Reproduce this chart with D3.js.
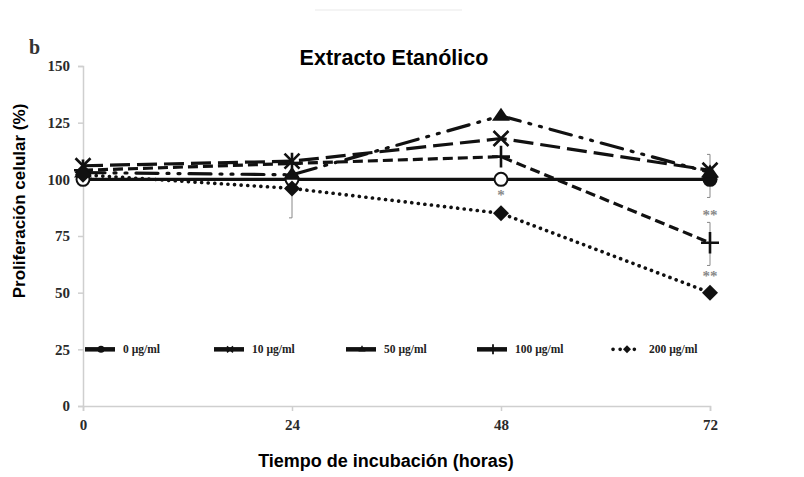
<!DOCTYPE html>
<html>
<head>
<meta charset="utf-8">
<script src="https://cdn.jsdelivr.net/npm/d3@7"></script>
<style>
  html, body { margin: 0; padding: 0; background: #fff; }
  svg { display: block; }
</style>
</head>
<body>
<svg id="chart" width="804" height="477"></svg>
<script>
// Incubation times (hours) and y-axis ticks
const hours = [0, 24, 48, 72];
const yTicks = [0, 25, 50, 75, 100, 125, 150];

// Cell proliferation (%) for each extract concentration
const seriesNames = ["0 µg/ml", "10 µg/ml", "50 µg/ml", "100 µg/ml", "200 µg/ml"];
const conc0   = [100, 100, 100, 100];
const conc10  = [106, 108, 118, 104];
const conc50  = [103, 102, 128, 103];
const conc100 = [104, 107, 110, 72];
const conc200 = [102, 96, 85, 50];

// Error bars: [hour, low, high]
const errorBars = [
  [24, 83, 101],
  [72, 92, 111],
  [72, 62, 81]
];

// Significance marks: [hour, value, text]
const marks = [
  [48, 91, "*"],
  [72, 82, "**"],
  [72, 55, "**"]
];

const svg = d3.select("#chart");
const x = d3.scaleLinear().domain([0, 72]).range([83, 710]);
const y = d3.scaleLinear().domain([0, 150]).range([406, 66]);

const styles = [
  { data: conc0,   dash: null,            marker: "circle" },
  { data: conc10,  dash: "20,7",          marker: "cross" },
  { data: conc50,  dash: "22,9,2,9,2,9",  marker: "triangle" },
  { data: conc100, dash: "10,5",          marker: "plus" },
  { data: conc200, dash: "0.1,6.5",       marker: "diamond" }
];

// Axes
const axisColor = "#cfcfcf";
const tickFont = "'Liberation Serif', 'DejaVu Serif', serif";
const sansFont = "'Liberation Sans', Arial, sans-serif";

const yAxis = svg.append("g").attr("transform", `translate(${x(0)},0)`)
  .call(d3.axisLeft(y).tickValues(yTicks).tickSize(5).tickPadding(8));
const xAxis = svg.append("g").attr("transform", `translate(0,${y(0)})`)
  .call(d3.axisBottom(x).tickValues(hours).tickSize(5).tickPadding(6));

[yAxis, xAxis].forEach(g => {
  g.select(".domain").attr("stroke", axisColor).attr("stroke-width", 1.5);
  g.selectAll(".tick line").attr("stroke", axisColor).attr("stroke-width", 1.5);
  g.selectAll(".tick text")
    .attr("fill", "#2a2a2a")
    .style("font-family", tickFont)
    .style("font-weight", "bold")
    .style("font-size", "15px");
});
xAxis.selectAll(".tick text").attr("dy", "0.85em");

// Error bars
const eb = svg.append("g").attr("stroke", "#888").attr("stroke-width", 1);
errorBars.forEach(([h, lo, hi]) => {
  eb.append("line").attr("x1", x(h)).attr("x2", x(h)).attr("y1", y(lo)).attr("y2", y(hi));
  eb.append("line").attr("x1", x(h) - 3).attr("x2", x(h)).attr("y1", y(lo)).attr("y2", y(lo));
  eb.append("line").attr("x1", x(h) - 3).attr("x2", x(h)).attr("y1", y(hi)).attr("y2", y(hi));
});

// Lines
const line = d3.line().x((d, i) => x(hours[i])).y(d => y(d));
styles.forEach(s => {
  svg.append("path")
    .datum(s.data)
    .attr("d", line)
    .attr("fill", "none")
    .attr("stroke", "#111")
    .attr("stroke-width", s.dash === "0.1,6.5" ? 3.6 : 3.2)
    .attr("stroke-linecap", s.dash === "0.1,6.5" || s.dash === "22,9,2,9,2,9" ? "round" : "butt")
    .attr("stroke-dasharray", s.dash);
});

// Markers
function drawMarker(g, type, cx, cy) {
  if (type === "circle") {
    g.append("circle").attr("cx", cx).attr("cy", cy).attr("r", 6.5)
      .attr("fill", "#fff").attr("stroke", "#111").attr("stroke-width", 2);
  } else if (type === "filledCircle") {
    g.append("circle").attr("cx", cx).attr("cy", cy).attr("r", 7.5).attr("fill", "#111");
  } else if (type === "cross") {
    const r = 7.5;
    g.append("path").attr("d", `M${cx - r},${cy - r}L${cx + r},${cy + r}M${cx - r},${cy + r}L${cx + r},${cy - r}`)
      .attr("stroke", "#111").attr("stroke-width", 2.6);
  } else if (type === "triangle") {
    g.append("path").attr("d", `M${cx},${cy - 8}L${cx + 9},${cy + 5}L${cx - 9},${cy + 5}Z`).attr("fill", "#111");
  } else if (type === "plus") {
    const r = 9;
    g.append("path").attr("d", `M${cx - r},${cy}L${cx + r},${cy}M${cx},${cy - r * 1.2}L${cx},${cy + r * 1.2}`)
      .attr("stroke", "#111").attr("stroke-width", 2.6);
  } else if (type === "diamond") {
    const r = 8;
    g.append("path").attr("d", `M${cx},${cy - r}L${cx + r},${cy}L${cx},${cy + r}L${cx - r},${cy}Z`)
      .attr("fill", "#111");
  }
}

const mg = svg.append("g");
styles.forEach(s => {
  s.data.forEach((v, i) => {
    const type = (s.marker === "circle" && hours[i] === 72) ? "filledCircle" : s.marker;
    drawMarker(mg, type, x(hours[i]), y(v));
  });
});

// Significance marks
marks.forEach(([h, v, t]) => {
  svg.append("text").attr("x", x(h)).attr("y", y(v))
    .attr("text-anchor", "middle")
    .attr("fill", "#888")
    .style("font-family", tickFont)
    .style("font-weight", "bold")
    .style("font-size", "15px")
    .text(t);
});

// Legend
const legendX = [85, 214, 346, 477, 611];
const legendY = y(25);
styles.forEach((s, i) => {
  const g = svg.append("g");
  const x0 = legendX[i], x1 = x0 + 30;
  if (s.dash === "0.1,6.5") {
    g.append("line").attr("x1", x0 + 2).attr("x2", x1).attr("y1", legendY).attr("y2", legendY)
      .attr("stroke", "#111").attr("stroke-width", 3.6).attr("stroke-linecap", "round")
      .attr("stroke-dasharray", "0.1,7");
  } else {
    g.append("line").attr("x1", x0).attr("x2", x1).attr("y1", legendY).attr("y2", legendY)
      .attr("stroke", "#111").attr("stroke-width", 4.5);
  }
  const cx = (x0 + x1) / 2 + 1;
  if (s.marker === "circle") {
    g.append("circle").attr("cx", cx).attr("cy", legendY).attr("r", 3.5).attr("fill", "#111");
  } else if (s.marker === "cross") {
    g.append("path").attr("d", `M${cx - 3},${legendY - 3}L${cx + 3},${legendY + 3}M${cx - 3},${legendY + 3}L${cx + 3},${legendY - 3}`)
      .attr("stroke", "#111").attr("stroke-width", 1.6);
  } else if (s.marker === "triangle") {
    g.append("path").attr("d", d3.symbol(d3.symbolTriangle, 22)()).attr("transform", `translate(${cx},${legendY})`).attr("fill", "#111");
  } else if (s.marker === "plus") {
    g.append("path").attr("d", `M${cx},${legendY - 5}L${cx},${legendY + 5}`).attr("stroke", "#111").attr("stroke-width", 1.8);
  } else if (s.marker === "diamond") {
    g.append("path").attr("d", `M${cx},${legendY - 4}L${cx + 4},${legendY}L${cx},${legendY + 4}L${cx - 4},${legendY}Z`).attr("fill", "#111");
  }
  g.append("text").attr("x", x1 + 8).attr("y", legendY + 4)
    .attr("fill", "#222")
    .style("font-family", tickFont)
    .style("font-weight", "bold")
    .style("font-size", "11.5px")
    .text(seriesNames[i]);
});

// Titles
svg.append("text").attr("x", 394).attr("y", 65).attr("text-anchor", "middle")
  .style("font-family", sansFont)
  .style("font-weight", "bold").style("font-size", "21.5px")
  .text("Extracto Etanólico");

svg.append("text").attr("x", 29).attr("y", 54)
  .attr("fill", "#333")
  .style("font-family", tickFont)
  .style("font-weight", "bold").style("font-size", "20px")
  .text("b");

svg.append("text").attr("x", 386).attr("y", 467).attr("text-anchor", "middle")
  .style("font-family", sansFont)
  .style("font-weight", "bold").style("font-size", "18px")
  .text("Tiempo de incubación (horas)");

svg.append("text")
  .attr("transform", "translate(25,201) rotate(-90)")
  .attr("text-anchor", "middle")
  .style("font-family", sansFont)
  .style("font-weight", "bold").style("font-size", "17px")
  .text("Proliferación celular (%)");

// faint rule at the top edge
svg.append("line").attr("x1", 315).attr("x2", 462).attr("y1", 10).attr("y2", 10)
  .attr("stroke", "#f0f0f0").attr("stroke-width", 1.5);
</script>
</body>
</html>
